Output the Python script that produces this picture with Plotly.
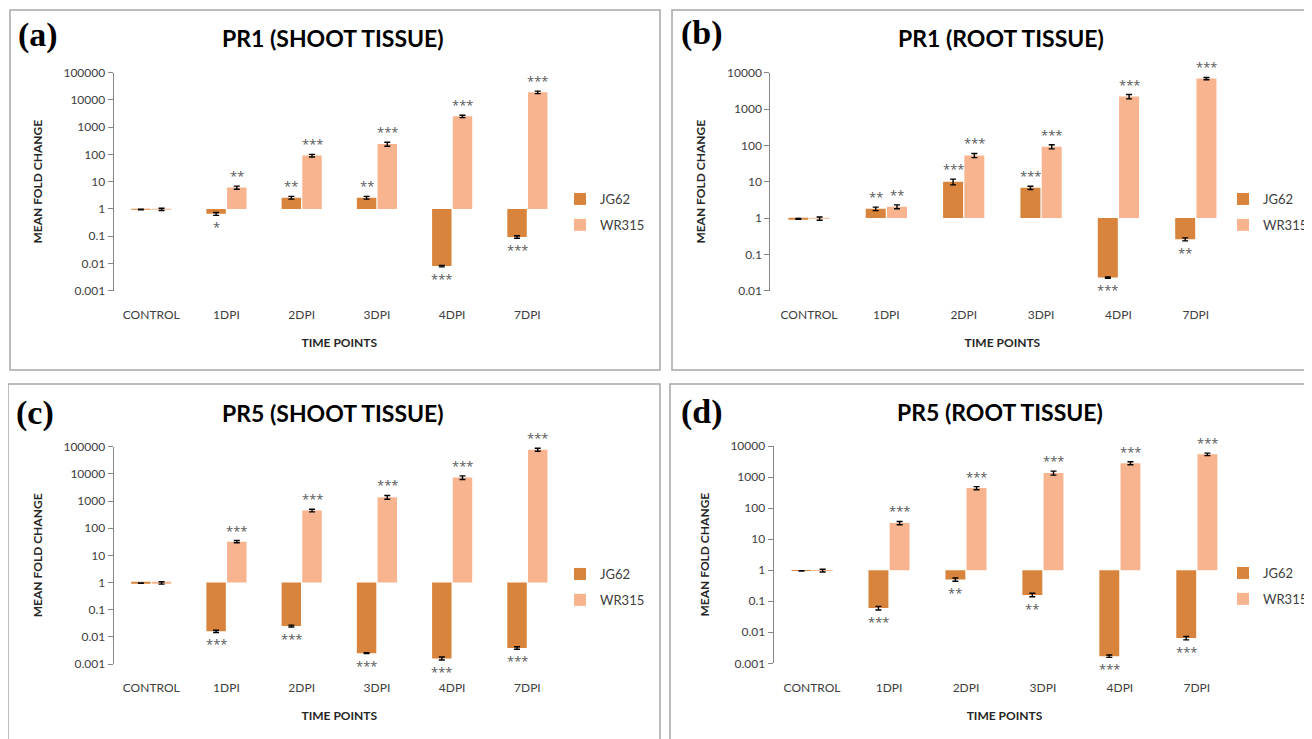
import math
import plotly.graph_objects as go

# The page body has an 8 px margin: the figure is drawn at (8, 8) in the window.
OX, OY = 8, 8
W, H = 1304, 731

categories = ["CONTROL", "1DPI", "2DPI", "3DPI", "4DPI", "7DPI"]
series_names = ["JG62", "WR315"]
colors = {"JG62": "#D8843C", "WR315": "#F8B48F"}

# ---- (a) PR1 shoot tissue ----
pr1_shoot_jg62 = [0.95, 0.66, 2.6, 2.6, 0.008, 0.094]
pr1_shoot_jg62_err = [0.02, 0.08, 0.3, 0.3, 0.0005, 0.01]
pr1_shoot_wr315 = [0.97, 6.1, 91, 240, 2500, 19000]
pr1_shoot_wr315_err = [0.09, 0.8, 10, 40, 250, 2000]
pr1_shoot_jg62_sig = ["", "*", "**", "**", "***", "***"]
pr1_shoot_wr315_sig = ["", "**", "***", "***", "***", "***"]

# ---- (b) PR1 root tissue ----
pr1_root_jg62 = [0.95, 1.8, 10, 6.8, 0.023, 0.26]
pr1_root_jg62_err = [0.02, 0.2, 1.8, 0.7, 0.001, 0.025]
pr1_root_wr315 = [0.97, 2.05, 53, 92, 2200, 6900]
pr1_root_wr315_err = [0.1, 0.25, 7, 12, 300, 500]
pr1_root_jg62_sig = ["", "**", "***", "***", "***", "**"]
pr1_root_wr315_sig = ["", "**", "***", "***", "***", "***"]

# ---- (c) PR5 shoot tissue ----
pr5_shoot_jg62 = [0.95, 0.016, 0.025, 0.0025, 0.0016, 0.0039]
pr5_shoot_jg62_err = [0.02, 0.0015, 0.002, 0.0001, 0.0002, 0.0004]
pr5_shoot_wr315 = [0.97, 32, 450, 1380, 7300, 78000]
pr5_shoot_wr315_err = [0.1, 3, 50, 220, 1100, 10000]
pr5_shoot_jg62_sig = ["", "***", "***", "***", "***", "***"]
pr5_shoot_wr315_sig = ["", "***", "***", "***", "***", "***"]

# ---- (d) PR5 root tissue ----
pr5_root_jg62 = [0.95, 0.06, 0.5, 0.16, 0.0017, 0.0065]
pr5_root_jg62_err = [0.02, 0.008, 0.06, 0.02, 0.00015, 0.0008]
pr5_root_wr315 = [0.97, 33, 440, 1350, 2800, 5400]
pr5_root_wr315_err = [0.1, 4, 50, 200, 300, 500]
pr5_root_jg62_sig = ["", "***", "**", "**", "***", "***"]
pr5_root_wr315_sig = ["", "***", "***", "***", "***", "***"]

tickvals_all = [0.001, 0.01, 0.1, 1, 10, 100, 1000, 10000, 100000]
ticktext_all = ["0.001", "0.01", "0.1", "1", "10", "100", "1000", "10000", "100000"]

FONT = "Lato, 'Open Sans', sans-serif"
SERIF = "'Liberation Serif', 'DejaVu Serif', serif"
STAR_FONT = "'Open Sans', sans-serif"

def fx(x):
    return (x - OX) / W

def fy(y):
    return 1 - (y - OY) / H

panels = [
    dict(letter="(a)", title="PR1 (SHOOT TISSUE)", frame=(10, 10, 660, 370),
         plot=(113.6, 72.7, 565.0, 290.7), rng=(-3, 5),
         letter_pos=(16, 35), title_pos=(333, 38), legend_pos=(560, 184),
         jg=(pr1_shoot_jg62, pr1_shoot_jg62_err, pr1_shoot_jg62_sig),
         wr=(pr1_shoot_wr315, pr1_shoot_wr315_err, pr1_shoot_wr315_sig)),
    dict(letter="(b)", title="PR1 (ROOT TISSUE)", frame=(672, 10, 1330, 370),
         plot=(770.3, 72.7, 1234.5, 290.7), rng=(-2, 4),
         letter_pos=(679, 33), title_pos=(1001, 38), legend_pos=(1223, 184),
         jg=(pr1_root_jg62, pr1_root_jg62_err, pr1_root_jg62_sig),
         wr=(pr1_root_wr315, pr1_root_wr315_err, pr1_root_wr315_sig)),
    dict(letter="(c)", title="PR5 (SHOOT TISSUE)", frame=(8, 384, 660, 760),
         plot=(113.6, 446.7, 565.0, 664.0), rng=(-3, 5),
         letter_pos=(14, 413), title_pos=(333, 413), legend_pos=(560, 559),
         jg=(pr5_shoot_jg62, pr5_shoot_jg62_err, pr5_shoot_jg62_sig),
         wr=(pr5_shoot_wr315, pr5_shoot_wr315_err, pr5_shoot_wr315_sig)),
    dict(letter="(d)", title="PR5 (ROOT TISSUE)", frame=(670, 384, 1330, 760),
         plot=(773.6, 446.0, 1235.3, 663.3), rng=(-3, 4),
         letter_pos=(679, 412), title_pos=(1000, 412), legend_pos=(1223, 558),
         jg=(pr5_root_jg62, pr5_root_jg62_err, pr5_root_jg62_sig),
         wr=(pr5_root_wr315, pr5_root_wr315_err, pr5_root_wr315_sig)),
]

BARGAP = 0.45
BARGROUPGAP = 0.06

fig = go.Figure()
layout = dict(
    width=W, height=H, margin=dict(l=0, r=0, t=0, b=0, pad=0, autoexpand=False),
    paper_bgcolor="white", plot_bgcolor="rgba(0,0,0,0)",
    barmode="group", bargap=BARGAP, bargroupgap=BARGROUPGAP,
    font=dict(family=FONT, color="#404040"),
)
shapes = []
annotations = []

for i, p in enumerate(panels, start=1):
    n = i
    xs = "" if n == 1 else str(n)
    lx = str(n + 4)
    x0, y0, x1, y1 = p["plot"]
    lo, hi = p["rng"]
    xdom = [fx(x0), fx(x1)]
    ydom = [fy(y1), fy(y0)]

    legend_key = "legend" if n == 1 else f"legend{n}"
    for name, (vals, errs, sigs) in zip(series_names, [p["jg"], p["wr"]]):
        fig.add_trace(go.Bar(
            x=categories, y=[v - 1 for v in vals], base=[1] * len(vals),
            name=name, marker=dict(color=colors[name], line=dict(width=0)),
            error_y=dict(type="data", array=errs, visible=True, color="black",
                         thickness=1.4, width=3),
            xaxis="x" + xs, yaxis="y" + xs, offsetgroup=name,
            legend=legend_key, legendgroup=f"{name}{n}", hoverinfo="skip",
        ))

    # significance stars
    catw = (x1 - x0) / len(categories)
    half = catw * (1 - BARGAP) / 4
    for name, (vals, errs, sigs), sh in zip(series_names, [p["jg"], p["wr"]], [-half, half]):
        for c, v, e, s in zip(categories, vals, errs, sigs):
            if not s:
                continue
            if v >= 1:
                annotations.append(dict(
                    x=c, y=math.log10(v + e), xref="x" + xs, yref="y" + xs,
                    text=s, showarrow=False, xshift=sh, yshift=-1, yanchor="bottom",
                    font=dict(size=13, color="#595959", family=STAR_FONT)))
            else:
                annotations.append(dict(
                    x=c, y=math.log10(v - e), xref="x" + xs, yref="y" + xs,
                    text=s, showarrow=False, xshift=sh, yshift=-1, yanchor="top",
                    font=dict(size=13, color="#595959", family=STAR_FONT)))

    tv = [t for t in tickvals_all if lo <= math.log10(t) <= hi]
    tt = [ticktext_all[tickvals_all.index(t)] for t in tv]

    layout["xaxis" + xs] = dict(
        domain=xdom, anchor="y" + xs, type="category", range=[-0.5, len(categories) - 0.5],
        showline=False, showgrid=False, zeroline=False,
        ticks="outside", ticklen=13, tickcolor="rgba(0,0,0,0)",
        tickfont=dict(size=12, color="#404040", family=FONT),
        title=dict(text="TIME POINTS", standoff=17,
                   font=dict(size=12, color="#262626", family=FONT, weight="bold")),
        fixedrange=True, automargin=False,
    )
    layout["yaxis" + xs] = dict(
        domain=ydom, anchor="x" + xs, type="log", range=[lo, hi],
        showline=True, linecolor="#868686", linewidth=1,
        ticks="outside", ticklen=5, tickcolor="#868686",
        tickvals=tv, ticktext=tt, showgrid=False, zeroline=False,
        tickfont=dict(size=12, color="#404040", family=FONT),
        title=dict(text="MEAN FOLD CHANGE", standoff=18,
                   font=dict(size=12, color="#262626", family=FONT, weight="bold")),
        fixedrange=True, automargin=False,
    )
    frac = (0 - lo) / (hi - lo)
    pos = ydom[0] + frac * (ydom[1] - ydom[0])
    layout["xaxis" + lx] = dict(
        domain=xdom, overlaying="x" + xs, anchor="free", position=pos,
        range=[-0.5, len(categories) - 0.5],
        tickvals=[k + 0.5 for k in range(len(categories))],
        ticks="outside", ticklen=5, tickcolor="#868686",
        showline=True, linecolor="#868686", linewidth=1,
        showticklabels=False, showgrid=False, zeroline=False, fixedrange=True,
    )

    lgx, lgy = p["legend_pos"]
    layout[legend_key] = dict(
        x=fx(lgx), y=fy(lgy), xanchor="left", yanchor="top",
        font=dict(size=13, color="#404040", family=FONT),
        bgcolor="rgba(0,0,0,0)", tracegroupgap=6, itemwidth=30,
    )

    fxa, fya, fxb, fyb = p["frame"]
    shapes.append(dict(type="rect", xref="paper", yref="paper",
                       x0=fx(fxa), x1=fx(fxb), y0=fy(fyb), y1=fy(fya),
                       line=dict(color="#A6A6A6", width=1.5), fillcolor="rgba(0,0,0,0)",
                       layer="below"))

    ltx, lty = p["letter_pos"]
    annotations.append(dict(x=fx(ltx), y=fy(lty), xref="paper", yref="paper",
                            text=p["letter"], showarrow=False, xanchor="left", yanchor="middle",
                            font=dict(size=34, color="black", family=SERIF, weight="bold")))
    ttx, tty = p["title_pos"]
    annotations.append(dict(x=fx(ttx), y=fy(tty), xref="paper", yref="paper",
                            text=p["title"], showarrow=False, xanchor="center", yanchor="middle",
                            font=dict(size=23, color="black", family=FONT, weight="bold")))

layout["shapes"] = shapes
layout["annotations"] = annotations
fig.update_layout(**layout)
fig.write_html("out.html")
